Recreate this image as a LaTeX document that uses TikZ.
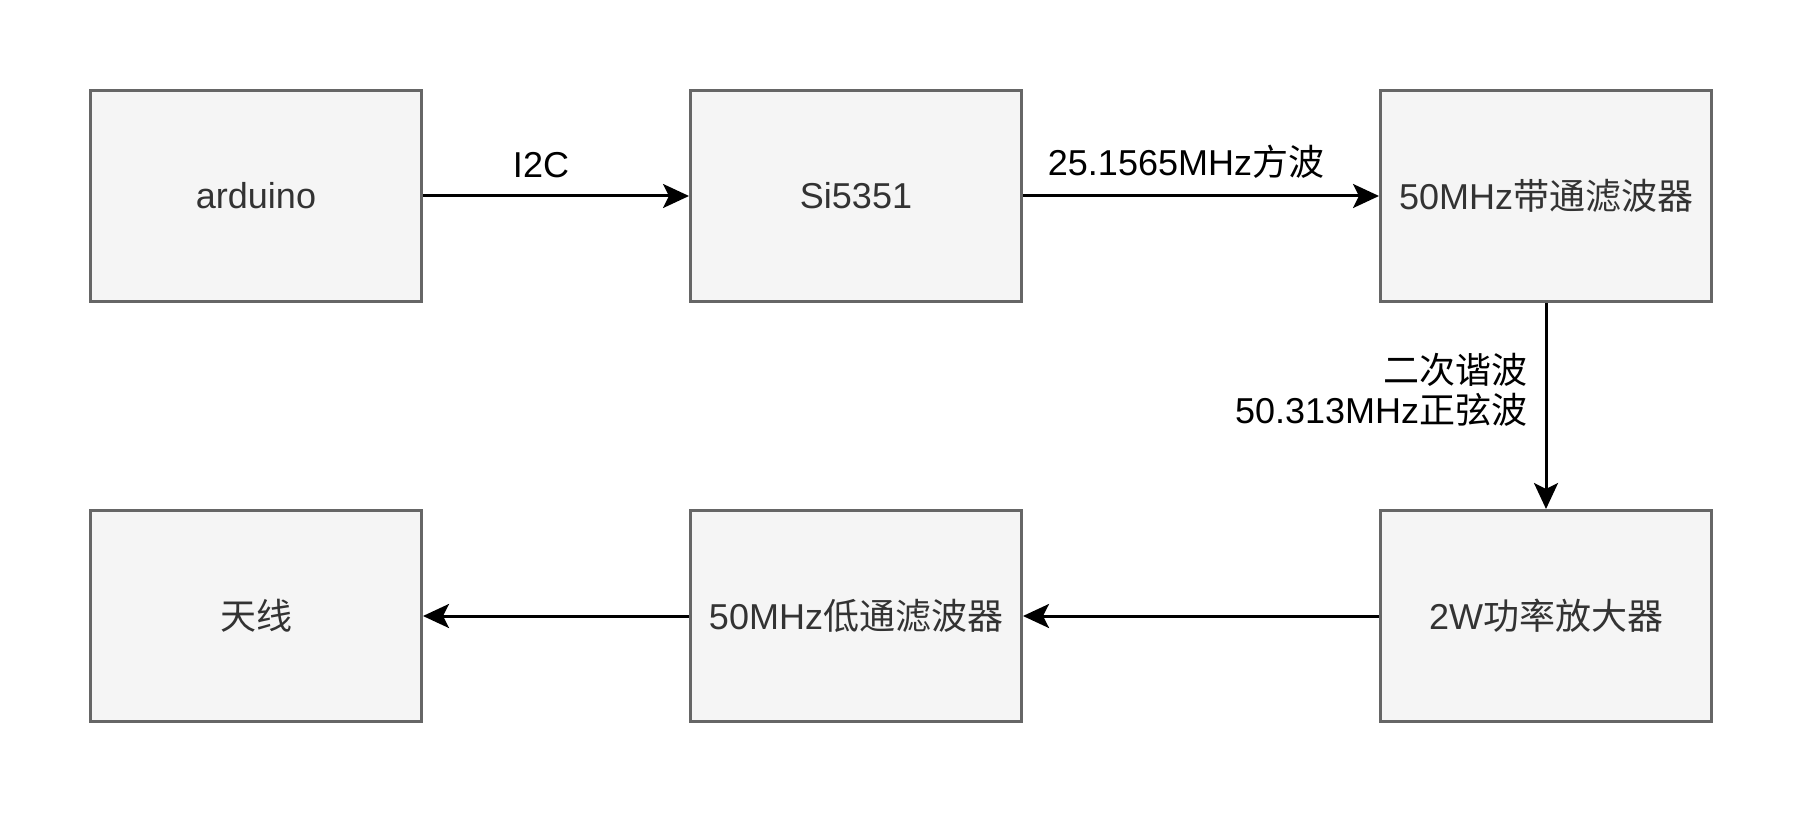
\documentclass[tikz,border=0pt]{standalone}
\usepackage{fontspec}
\setmainfont{Liberation Sans}
\newfontfamily\cjk{Noto Sans CJK SC}
\usepackage{tikz}
\usetikzlibrary{arrows.meta,positioning}

\definecolor{boxfill}{HTML}{F5F5F5}
\definecolor{boxline}{HTML}{666666}
\definecolor{boxtext}{HTML}{333333}

\begin{document}
\begin{tikzpicture}[
x=1pt,y=-1pt,
font=\fontsize{36}{44}\selectfont,
block/.style={draw=boxline,fill=boxfill,line width=3pt,minimum width=331pt,minimum height=211pt,text=boxtext,inner sep=0pt},
signal/.style={-{Stealth[length=26pt,width=24pt,inset=6pt]},line width=3pt},
]
    % page
    \useasboundingbox (0,0) rectangle (1803,813);

    % upper row
    \node[block] (mcu) at (256,196) {arduino};
    \node[block] (clk) at (856,196) {Si5351};
    \node[block] (bpf) at (1546,196) {50MHz{\cjk 带通滤波器}};

    % lower row
    \node[block] (pa)  at (1546,616) {2W{\cjk 功率放大器}};
    \node[block] (lpf) at (856,616) {50MHz{\cjk 低通滤波器}};
    \node[block] (ant) at (256,616) {{\cjk 天线}};

    \draw[signal] (mcu) -- (clk) node[midway,above=13pt,xshift=-15pt] {I2C};
    \draw[signal] (clk) -- (bpf) node[midway,above=13pt,xshift=-15pt] {25.1565MHz{\cjk 方波}};
    \draw[signal] (bpf) -- (pa) node[pos=0.42,left=14pt,align=right] {{\cjk 二次谐波}\\[-4pt]50.313MHz{\cjk 正弦波}};
    \draw[signal] (pa) -- (lpf);
    \draw[signal] (lpf) -- (ant);

\end{tikzpicture}
\end{document}
